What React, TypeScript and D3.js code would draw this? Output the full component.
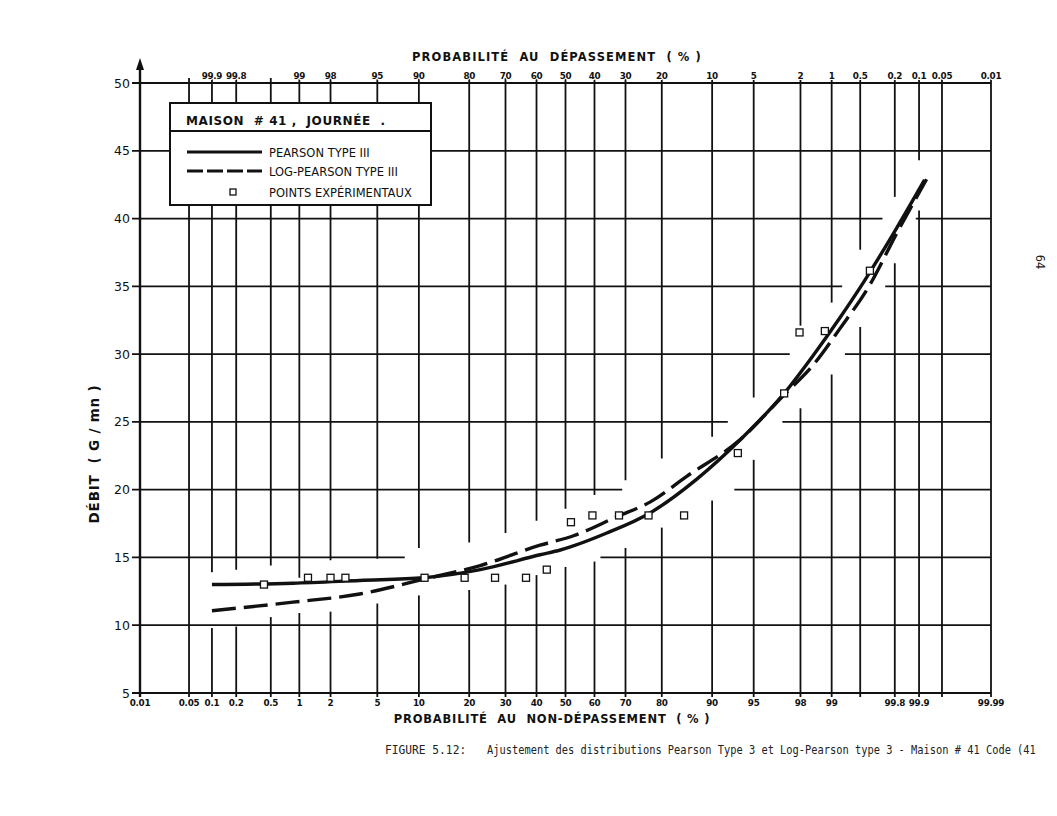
import React, { useEffect, useRef } from 'react';
import * as d3 from 'd3';

// probability paper: non-exceedance probability (%) of each vertical grid line
const probTicks = [0.01, 0.05, 0.1, 0.2, 0.5, 1, 2, 5, 10, 20, 30, 40, 50, 60, 70, 80, 90, 95, 98, 99, 99.5, 99.8, 99.9, 99.95, 99.99];
const bottomLabels = ['0.01', '0.05', '0.1', '0.2', '0.5', '1', '2', '5', '10', '20', '30', '40', '50', '60', '70', '80', '90', '95', '98', '99', '', '99.8', '99.9', '', '99.99'];
const topLabels = ['', '', '99.9', '99.8', '', '99', '98', '95', '90', '80', '70', '60', '50', '40', '30', '20', '10', '5', '2', '1', '0.5', '0.2', '0.1', '0.05', '0.01'];
const debitTicks = [5, 10, 15, 20, 25, 30, 35, 40, 45, 50];

// bits of grid the draftsman left out around the curves
// vertical lines: debit range skipped ; horizontal lines: probability range skipped
const vGaps: ([number, number] | null)[] = [
  null, null, [9.8, 13.9], [9.9, 14.1], [10.6, 14.4], [10.9, 13.5], [11.0, 14.8], [11.6, 14.9],
  [12.2, 15.7], [12.6, 16.1], [13.0, 16.8], [13.7, 17.7], [14.3, 18.6], [14.7, 19.6], [15.7, 20.7],
  [17.2, 22.3], [19.2, 23.9], [22.2, 26.8], [26.0, 32.1], [28.5, 33.8], [32.0, 37.7], [36.7, 41.6],
  [40.6, 44.3], null, null,
];
const hGaps: ([number, number] | null)[] = [
  null, null, [8, 62], [69, 93], [92.2, 97.1], [97.5, 99.27], [99.22, 99.74], [99.72, 99.89], null, null,
];

// experimental points
const ptProb = [0.42, 1.22, 2.0, 2.72, 10.9, 18.9, 26.9, 36.5, 43.5, 51.9, 59.3, 68.0, 76.6, 85.0, 93.4, 97.2, 97.96, 98.83, 99.61];
const ptDebit = [13.0, 13.5, 13.5, 13.5, 13.5, 13.5, 13.5, 13.5, 14.1, 17.6, 18.1, 18.1, 18.1, 18.1, 22.7, 27.1, 31.6, 31.7, 36.15];

// Pearson type III
const p3Prob = [0.1, 0.86, 3.6, 10.8, 22.8, 41.2, 48.2, 64.1, 77.1, 87.5, 93.7, 97.2, 98.48, 99.18, 99.56, 99.81, 99.915];
const p3Debit = [13.0, 13.1, 13.3, 13.5, 14.1, 15.2, 15.55, 16.8, 18.3, 20.8, 23.7, 27.1, 29.9, 32.7, 35.5, 39.3, 42.85];

// Log-Pearson type III
const lp3Prob = [0.1, 0.86, 3.6, 10.8, 22.8, 41.2, 52.8, 67.3, 77.1, 85.6, 93.5, 97.2, 98.48, 99.18, 99.6, 99.81, 99.92];
const lp3Debit = [11.07, 11.7, 12.3, 13.4, 14.4, 15.9, 16.6, 18.0, 19.1, 21.0, 23.6, 27.0, 29.2, 31.9, 35.0, 38.9, 42.9];

const normInv = (p: number) => {
  const a = [-39.69683028665376, 220.9460984245205, -275.9285104469687, 138.357751867269, -30.66479806614716, 2.506628277459239];
  const b = [-54.47609879822406, 161.5858368580409, -155.6989798598866, 66.80131188771972, -13.28068155288572];
  const c = [-0.007784894002430293, -0.3223964580411365, -2.400758277161838, -2.549732539343734, 4.374664141464968, 2.938163982698783];
  const d = [0.007784695709041462, 0.3224671290700398, 2.445134137142996, 3.754408661907416];
  const pl = 0.02425;
  if (p < pl) {
    const q = Math.sqrt(-2 * Math.log(p));
    return (((((c[0] * q + c[1]) * q + c[2]) * q + c[3]) * q + c[4]) * q + c[5]) / ((((d[0] * q + d[1]) * q + d[2]) * q + d[3]) * q + 1);
  }
  if (p > 1 - pl) {
    const q = Math.sqrt(-2 * Math.log(1 - p));
    return -(((((c[0] * q + c[1]) * q + c[2]) * q + c[3]) * q + c[4]) * q + c[5]) / ((((d[0] * q + d[1]) * q + d[2]) * q + d[3]) * q + 1);
  }
  const q = p - 0.5;
  const r = q * q;
  return (((((a[0] * r + a[1]) * r + a[2]) * r + a[3]) * r + a[4]) * r + a[5]) * q / (((((b[0] * r + b[1]) * r + b[2]) * r + b[3]) * r + b[4]) * r + 1);
};

const FONT = "'DejaVu Sans', sans-serif";
const MONO = "'DejaVu Sans Mono', 'Liberation Mono', monospace";

const App: React.FC = () => {
  const chartRef = useRef<SVGSVGElement | null>(null);

  useEffect(() => {
    drawGraph();
  }, []);

  const drawGraph = () => {
    const svg = d3.select(chartRef.current);
    svg.selectAll('*').remove();

    const zScale = d3.scaleLinear().domain([normInv(0.0001), normInv(0.9999)]).range([140, 991]);
    const x = (p: number) => zScale(normInv(p / 100));
    const y = d3.scaleLinear().domain([5, 50]).range([693, 83]);
    const left = x(0.01);
    const right = x(99.99);

    const grid = svg.append('g').attr('stroke', '#111').attr('stroke-width', 1.8).attr('fill', 'none');

    // vertical lines
    probTicks.forEach((p, i) => {
      if (i === 0) return;
      const xx = x(p);
      const gap = vGaps[i];
      const segs: [number, number][] = gap ? [[y(5) + 4, y(gap[0])], [y(gap[1]), y(50) - 5]] : [[y(5) + 4, y(50) - 5]];
      segs.forEach(([a, b]) => grid.append('line').attr('x1', xx).attr('x2', xx).attr('y1', a).attr('y2', b));
    });

    // horizontal lines
    debitTicks.forEach((v, i) => {
      const yy = y(v);
      const gap = hGaps[i];
      const segs: [number, number][] = gap ? [[left - 8, x(gap[0])], [x(gap[1]), right]] : [[left - 8, right]];
      segs.forEach(([a, b]) => grid.append('line').attr('x1', a).attr('x2', b).attr('y1', yy).attr('y2', yy));
    });

    // y axis with arrow
    svg.append('line').attr('x1', left).attr('x2', left).attr('y1', y(5) + 4).attr('y2', 66)
      .attr('stroke', '#111').attr('stroke-width', 2.4);
    svg.append('path').attr('d', `M${left},58 L${left - 4},70 L${left + 4},70 Z`).attr('fill', '#111');

    // tick labels
    svg.append('g').selectAll('text').data(debitTicks).enter().append('text')
      .attr('x', left - 10).attr('y', (d) => y(d) + 4.5).attr('text-anchor', 'end')
      .attr('font-family', FONT).attr('font-size', 12.5).attr('fill', '#111').text((d) => d);

    svg.append('g').selectAll('text').data(probTicks).enter().append('text')
      .attr('x', (d) => x(d)).attr('y', 706).attr('text-anchor', 'middle')
      .attr('font-family', FONT).attr('font-size', 8.8).attr('font-weight', 'bold').attr('letter-spacing', -0.3)
      .attr('fill', '#111')
      .text((d, i) => bottomLabels[i]);

    svg.append('g').selectAll('text').data(probTicks).enter().append('text')
      .attr('x', (d) => x(d)).attr('y', 79).attr('text-anchor', 'middle')
      .attr('font-family', FONT).attr('font-size', 8.8).attr('font-weight', 'bold').attr('letter-spacing', -0.3)
      .attr('fill', '#111')
      .attr('paint-order', 'stroke').attr('stroke', '#fff').attr('stroke-width', 2)
      .text((d, i) => topLabels[i]);

    // axis titles
    svg.append('text').attr('x', 557).attr('y', 61).attr('text-anchor', 'middle')
      .attr('font-family', FONT).attr('font-size', 11.5).attr('font-weight', 'bold').attr('letter-spacing', 1.1)
      .attr('fill', '#111').attr('xml:space', 'preserve').text('PROBABILITÉ  AU  DÉPASSEMENT  ( % )');
    svg.append('text').attr('x', 552).attr('y', 723).attr('text-anchor', 'middle')
      .attr('font-family', FONT).attr('font-size', 11.5).attr('font-weight', 'bold').attr('letter-spacing', 0.8)
      .attr('fill', '#111').attr('xml:space', 'preserve').text('PROBABILITÉ  AU  NON-DÉPASSEMENT  ( % )');
    svg.append('text').attr('transform', 'translate(99,454) rotate(-90)').attr('text-anchor', 'middle')
      .attr('font-family', FONT).attr('font-size', 13.5).attr('font-weight', 'bold').attr('letter-spacing', 0.8)
      .attr('fill', '#111').attr('xml:space', 'preserve').text('DÉBIT  ( G / mn )');

    // curves
    const curve = d3.line<[number, number]>()
      .x((d) => x(d[0]))
      .y((d) => y(d[1]))
      .curve(d3.curveMonotoneX);

    svg.append('path').attr('d', curve(lp3Prob.map((p, i) => [p, lp3Debit[i]]))!)
      .attr('fill', 'none').attr('stroke', '#111').attr('stroke-width', 3.4).attr('stroke-dasharray', '24,8');
    svg.append('path').attr('d', curve(p3Prob.map((p, i) => [p, p3Debit[i]]))!)
      .attr('fill', 'none').attr('stroke', '#111').attr('stroke-width', 3.4);

    // experimental points
    svg.append('g').selectAll('rect').data(ptProb).enter().append('rect')
      .attr('x', (d) => x(d) - 3.5).attr('y', (d, i) => y(ptDebit[i]) - 3.5)
      .attr('width', 7).attr('height', 7)
      .attr('fill', '#fff').attr('stroke', '#111').attr('stroke-width', 1.3);

    // legend
    const lg = svg.append('g');
    lg.append('rect').attr('x', 170).attr('y', 103).attr('width', 261).attr('height', 102)
      .attr('fill', '#fff').attr('stroke', '#111').attr('stroke-width', 2);
    lg.append('line').attr('x1', 170).attr('x2', 431).attr('y1', 131).attr('y2', 131)
      .attr('stroke', '#111').attr('stroke-width', 2);
    lg.append('text').attr('x', 186).attr('y', 125).attr('font-family', FONT).attr('font-size', 12)
      .attr('font-weight', 'bold').attr('letter-spacing', 0.6).attr('fill', '#111').attr('xml:space', 'preserve')
      .text('MAISON  # 41 ,  JOURNÉE  .');
    const items = ['PEARSON TYPE III', 'LOG-PEARSON TYPE III', 'POINTS EXPÉRIMENTAUX'];
    const rows = [152, 171, 192];
    items.forEach((t, i) => {
      lg.append('text').attr('x', 269).attr('y', rows[i] + 4.5).attr('font-family', FONT).attr('font-size', 11.5)
        .attr('fill', '#111').text(t);
    });
    lg.append('line').attr('x1', 187).attr('x2', 262).attr('y1', rows[0]).attr('y2', rows[0])
      .attr('stroke', '#111').attr('stroke-width', 3);
    lg.append('line').attr('x1', 187).attr('x2', 262).attr('y1', rows[1]).attr('y2', rows[1])
      .attr('stroke', '#111').attr('stroke-width', 3).attr('stroke-dasharray', '16,4');
    lg.append('rect').attr('x', 230).attr('y', rows[2] - 3).attr('width', 6).attr('height', 6)
      .attr('fill', '#fff').attr('stroke', '#111').attr('stroke-width', 1.3);

    // caption (narrow typewriter look) and page number
    svg.append('text').attr('transform', 'translate(385,754) scale(0.9,1)').attr('font-family', MONO)
      .attr('font-size', 12.5).attr('fill', '#222').text('FIGURE 5.12:');
    svg.append('text').attr('transform', 'translate(487,754) scale(0.83,1)').attr('font-family', MONO)
      .attr('font-size', 12.5).attr('fill', '#222')
      .text('Ajustement des distributions Pearson Type 3 et Log-Pearson type 3 - Maison # 41 Code (41');
    svg.append('text').attr('transform', 'translate(1036,262) rotate(90)').attr('text-anchor', 'middle')
      .attr('font-family', MONO).attr('font-size', 12).attr('fill', '#222').text('64');
  };

  return (
    <svg
      ref={chartRef}
      width={1057}
      height={816}
      style={{ position: 'absolute', left: 0, top: 0, background: '#fff' }}
    />
  );
};

export default App;
